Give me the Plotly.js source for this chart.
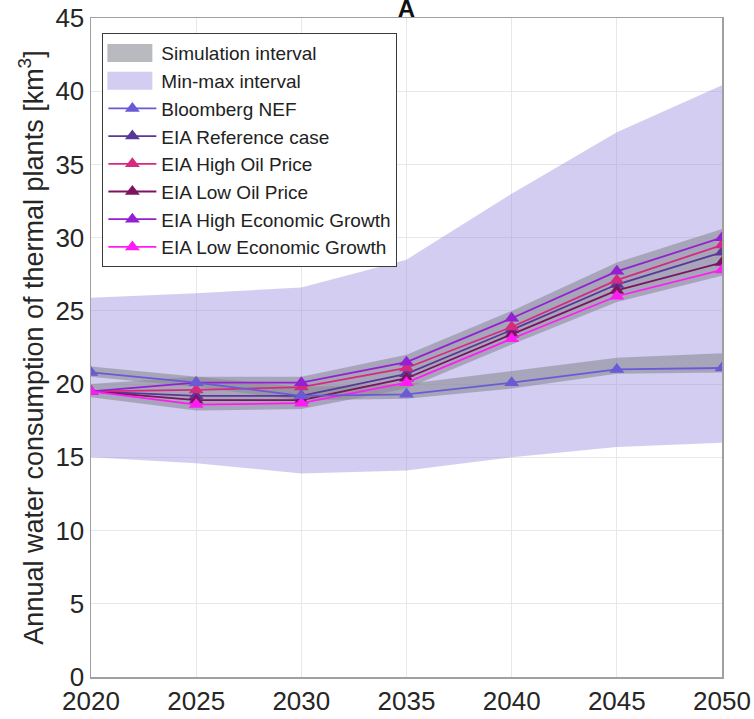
<!DOCTYPE html>
<html>
<head>
<meta charset="utf-8">
<script src="https://cdn.plot.ly/plotly-3.0.1.min.js"></script>
<style>
  html, body { margin: 0; padding: 0; background: #ffffff; }
  #chart { width: 754px; height: 719px; }
</style>
</head>
<body>
<div id="chart"></div>
<script>
// Annual water consumption of thermal plants, km^3
var years = [2020, 2025, 2030, 2035, 2040, 2045, 2050];

// Min-max envelope across all scenarios
var minMaxLow  = [15.0, 14.6, 13.9, 14.1, 15.0, 15.7, 16.0];
var minMaxHigh = [25.9, 26.2, 26.6, 28.5, 33.0, 37.2, 40.4];

// Simulation intervals
var simBnefLow  = [20.5, 19.8, 18.9, 19.0, 19.7, 20.7, 20.8];
var simBnefHigh = [21.2, 20.5, 19.8, 20.0, 20.9, 21.8, 22.1];
var simEiaLow   = [19.1, 18.2, 18.3, 19.7, 22.7, 25.6, 27.4];
var simEiaHigh  = [20.0, 20.5, 20.5, 22.0, 25.0, 28.3, 30.6];

// Scenario series
var bloombergNEF   = [20.8, 20.1, 19.2, 19.3, 20.1, 21.0, 21.1];
var eiaReference   = [19.5, 19.2, 19.2, 20.7, 23.7, 26.8, 29.0];
var eiaHighOil     = [19.5, 19.6, 19.8, 21.1, 23.9, 27.1, 29.5];
var eiaLowOil      = [19.5, 18.9, 18.9, 20.4, 23.4, 26.4, 28.3];
var eiaHighGrowth  = [19.5, 20.1, 20.1, 21.5, 24.5, 27.7, 30.0];
var eiaLowGrowth   = [19.5, 18.6, 18.7, 20.1, 23.1, 26.0, 27.8];

var seriesNames = ['Bloomberg NEF', 'EIA Reference case', 'EIA High Oil Price',
                   'EIA Low Oil Price', 'EIA High Economic Growth', 'EIA Low Economic Growth'];
var seriesData  = [bloombergNEF, eiaReference, eiaHighOil, eiaLowOil, eiaHighGrowth, eiaLowGrowth];
var seriesColors = ['#6a5ad6', '#5a3798', '#d62a80', '#7c145f', '#9420d2', '#ff1cf4'];

var lavender = 'rgba(150,135,222,0.42)';
var grey = 'rgba(138,138,150,0.6)';

function band(lo, hi, color, name, showLegend, rank) {
  return [
    { x: years, y: lo, type: 'scatter', mode: 'lines', line: { width: 0 },
      showlegend: false, hoverinfo: 'skip' },
    { x: years, y: hi, type: 'scatter', mode: 'lines', line: { width: 0 },
      fill: 'tonexty', fillcolor: color, name: name, showlegend: showLegend,
      legendrank: rank, hoverinfo: 'skip' }
  ];
}

var traces = [];
traces = traces.concat(band(minMaxLow, minMaxHigh, lavender, 'Min-max interval', true, 2));
traces = traces.concat(band(simBnefLow, simBnefHigh, grey, 'Simulation interval', true, 1));
traces = traces.concat(band(simEiaLow, simEiaHigh, grey, 'Simulation interval', false, 1));

// Draw the EIA lines first so Bloomberg NEF stays readable where they cross
var drawOrder = [1, 3, 2, 4, 5, 0];
drawOrder.forEach(function (i) {
  traces.push({
    x: years, y: seriesData[i], type: 'scatter', mode: 'lines+markers',
    name: seriesNames[i], legendrank: 3 + i,
    line: { color: seriesColors[i], width: 1.8 },
    marker: { symbol: 'triangle-up', size: 13, color: seriesColors[i] }
  });
});

var axisFont = { family: 'Liberation Sans, Arial, sans-serif', size: 26, color: '#262626' };

var layout = {
  width: 754, height: 719,
  margin: { l: 91, r: 32, t: 18, b: 42, pad: 0 },
  paper_bgcolor: '#ffffff', plot_bgcolor: '#ffffff',
  font: { family: 'Liberation Sans, Arial, sans-serif', color: '#262626' },
  title: {
    text: '<b>A</b>', x: 0.5, xref: 'paper', xanchor: 'center',
    y: 1, yref: 'paper', yanchor: 'bottom', pad: { t: 0, b: 1 },
    font: { size: 24, color: '#111111' }
  },
  xaxis: {
    range: [2020, 2050], tickvals: years, ticktext: years.map(String),
    tickfont: axisFont, showgrid: true, gridcolor: '#e8e8e8', gridwidth: 1,
    zeroline: false, showline: true, linecolor: '#a0a0a0', linewidth: 1.5,
    mirror: true, ticks: '', fixedrange: true
  },
  yaxis: {
    range: [0, 45], dtick: 5, tickfont: axisFont,
    showgrid: true, gridcolor: '#e8e8e8', gridwidth: 1,
    zeroline: false, showline: true, linecolor: '#a0a0a0', linewidth: 1.5,
    mirror: true, ticks: '', fixedrange: true,
    title: {
      text: 'Annual water consumption of thermal plants [km<sup>3</sup>]',
      font: { size: 27, color: '#262626' }, standoff: 4
    }
  },
  legend: {
    x: 0.018, y: 0.977, xanchor: 'left', yanchor: 'top',
    bgcolor: '#ffffff', bordercolor: '#3a3a3a', borderwidth: 1,
    font: { size: 19, color: '#222222' }, itemwidth: 48,
    traceorder: 'normal', tracegroupgap: 0
  },
  showlegend: true
};

Plotly.newPlot('chart', traces, layout, { staticPlot: true, displayModeBar: false })
  .then(function (gd) {
    // Taller block swatches for the two interval entries in the legend
    gd.querySelectorAll('.legend .legendfill path').forEach(function (p) {
      if (p.getAttribute('d')) p.setAttribute('d', 'M4,-9h45v18h-45z');
    });
  });
</script>
</body>
</html>
